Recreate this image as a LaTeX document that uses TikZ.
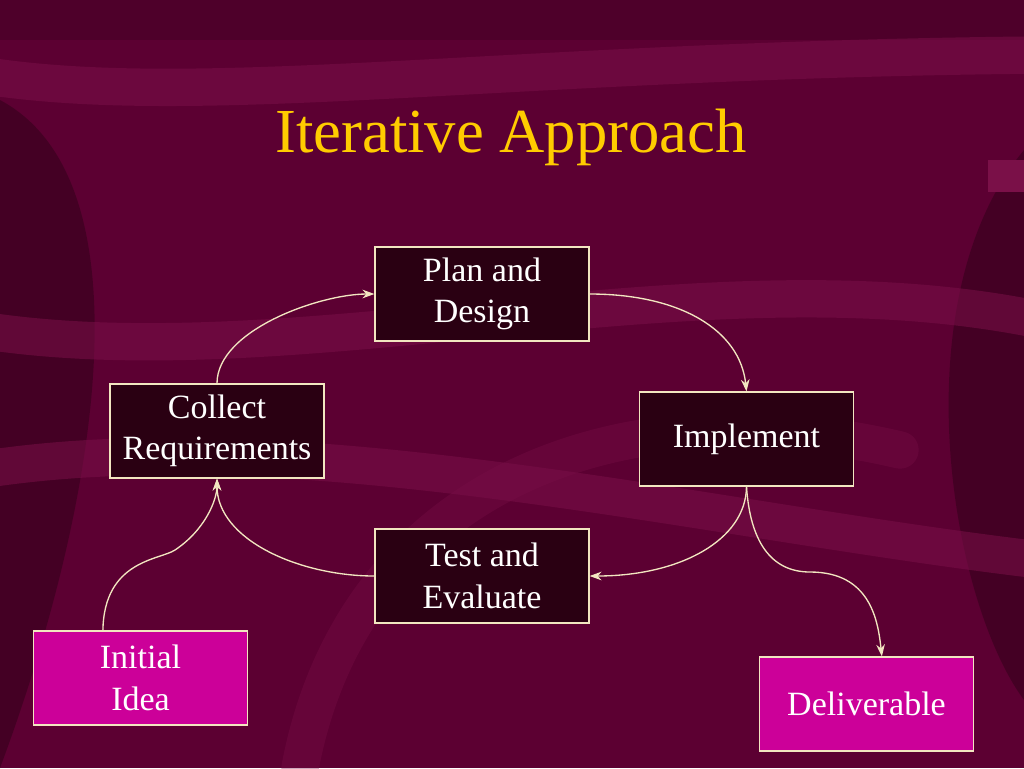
\documentclass[tikz,border=0pt]{standalone}
\usepackage{fontspec}
\setmainfont{Liberation Serif}
\usetikzlibrary{arrows.meta}
\definecolor{bg}{HTML}{5C0032}
\definecolor{bgdark}{HTML}{2E0018}
\definecolor{band}{HTML}{7A1048}
\definecolor{boxfill}{HTML}{2A0012}
\definecolor{edge}{HTML}{F2E6C0}
\definecolor{pink}{HTML}{CC0099}
\definecolor{gold}{HTML}{FFCC00}
\begin{document}
\begin{tikzpicture}[x=0.75pt,y=-0.75pt,
  box/.style={draw=edge,line width=0.9pt,fill=boxfill,minimum width=160.5pt,minimum height=70.5pt,inner sep=0pt,text=white,font=\fontsize{25.5}{31}\selectfont,align=center},
  pbox/.style={box,fill=pink},
  conn/.style={draw=edge,line width=1pt,-{Stealth[length=9pt,width=6.5pt]}},
  swirl/.style={draw=band,line width=28pt,opacity=0.55,line cap=round}]
\fill[bg] (0,0) rectangle (1024,768);
\useasboundingbox (0,0) rectangle (1024,768);
\fill[bgdark,opacity=0.3] (0,0) rectangle (1024,40);
\fill[bgdark,opacity=0.5] (0,100) .. controls (150,180) and (100,500) .. (0,768) -- (0,100);
\fill[bgdark,opacity=0.5] (1024,150) .. controls (900,300) and (950,600) .. (1024,700) -- cycle;
\draw[swirl] (-20,75) .. controls (200,110) and (500,60) .. (1040,55);
\draw[swirl] (-20,330) .. controls (300,380) and (700,250) .. (1040,320);
\draw[swirl] (-20,470) .. controls (300,420) and (700,520) .. (1040,560);
\draw[swirl,opacity=0.35] (300,768) .. controls (350,500) and (600,380) .. (900,450);
\fill[band] (988,160) rectangle (1024,192);
\node[text=gold,font=\fontsize{47}{54}\selectfont] (title) at (511,137) {Iterative Approach};
\node[box] (plan) at (482,294) {Plan and\\Design};
\node[box] (coll) at (217,431) {Collect\\Requirements};
\node[box] (impl) at (746.5,439) {Implement};
\node[box] (test) at (482,576) {Test and\\Evaluate};
\node[pbox] (init) at (140.5,678) {Initial\\Idea};
\node[pbox] (deli) at (866.5,704) {Deliverable};
\draw[conn] (coll.north) .. controls (217,330) and (320,294) .. (plan.west);
\draw[conn] (plan.east) .. controls (680,294) and (740,330) .. (impl.north);
\draw[conn] (impl.south) .. controls (746,540) and (680,576) .. (test.east);
\draw[conn] (test.west) .. controls (300,576) and (217,540) .. (coll.south);
\draw[conn] (init.north west) ++(70,0) coordinate (ia) (ia) .. controls (104,560) and (160,560) .. (175,550) .. controls (205,530) and (217,500) .. (coll.south);
\draw[conn] (impl.south) .. controls (750,540) and (770,572) .. (810,572) .. controls (870,572) and (878,620) .. ([xshift=11.5pt]deli.north);
\end{tikzpicture}
\end{document}
